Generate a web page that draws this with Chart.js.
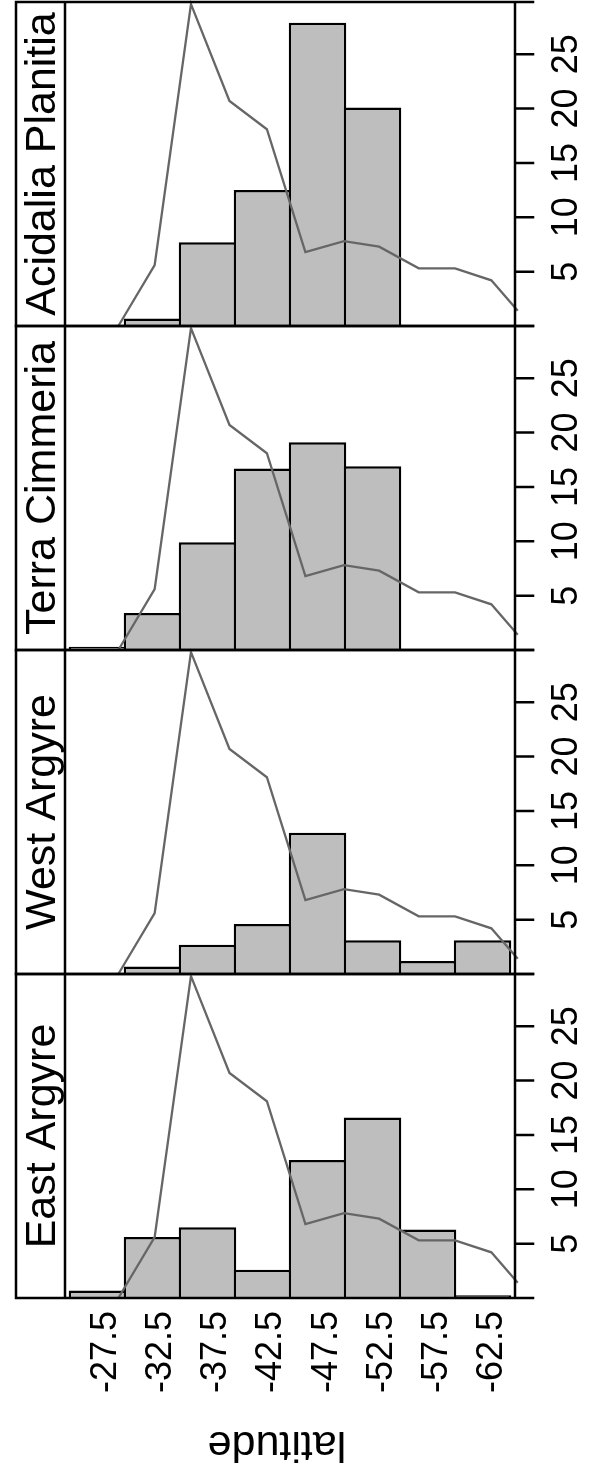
<!DOCTYPE html>
<html>
<head>
<meta charset="utf-8">
<script src="https://cdn.jsdelivr.net/npm/chart.js@4/dist/chart.umd.min.js"></script>
<style>
    html, body { margin: 0; padding: 0; background: #fff; }
    #wrap { position: relative; width: 589px; height: 1484px; }
    #wrap canvas { position: absolute; left: 0; }
</style>
</head>
<body>
<div id="wrap"></div>
<script>
// DATOS
var binCenters = [-27.5, -32.5, -37.5, -42.5, -47.5, -52.5, -57.5, -62.5];
var xTickLabels = ['-27.5', '-32.5', '-37.5', '-42.5', '-47.5', '-52.5', '-57.5', '-62.5'];
var countTicks = [5, 10, 15, 20, 25];
var regions = ['Acidalia Planitia', 'Terra Cimmeria', 'West Argyre', 'East Argyre'];

var acidaliaPlanitia = [0, 0.7, 7.7, 12.5, 27.9, 20.1, 0, 0];
var terraCimmeria = [0.3, 3.4, 9.9, 16.7, 19.1, 16.9, 0, 0];
var westArgyre = [0, 0.7, 2.7, 4.6, 13.0, 3.1, 1.2, 3.1];
var eastArgyre = [0.7, 5.6, 6.5, 2.6, 12.7, 16.6, 6.3, 0.25];

// curva de referencia (igual en todos los paneles)
var refLatitude = [-29.4, -32.7, -36.0, -39.5, -42.9, -46.4, -49.9, -53.1, -56.7, -60.0, -63.3, -65.7];
var refValues = [0, 5.6, 29.6, 20.7, 18.1, 6.8, 7.8, 7.3, 5.3, 5.3, 4.2, 1.4];

var panelValues = [acidaliaPlanitia, terraCimmeria, westArgyre, eastArgyre];

// layout
var panelTop = [2, 326, 650, 974];
var panelBottom = [326, 650, 974, 1298];
var FONT = '"Liberation Sans", Arial, Helvetica, sans-serif';

var framePlugin = {
    id: 'frame',
    afterDraw: function(chart, args, opts) {
        var ctx = chart.ctx;
        var a = chart.chartArea;
        var xScale = chart.scales.x;
        var yScale = chart.scales.y;

        ctx.save();
        ctx.strokeStyle = '#000';
        ctx.lineWidth = 2.5;
        ctx.lineCap = 'square';
        ctx.beginPath();
        ctx.moveTo(16, a.top); ctx.lineTo(533, a.top);
        ctx.moveTo(16, a.bottom); ctx.lineTo(533, a.bottom);
        ctx.moveTo(16, a.top); ctx.lineTo(16, a.bottom);
        ctx.moveTo(a.left, a.top); ctx.lineTo(a.left, a.bottom);
        ctx.moveTo(a.right, a.top); ctx.lineTo(a.right, a.bottom);
        countTicks.forEach(function(v) {
            var y = yScale.getPixelForValue(v);
            ctx.moveTo(a.right, y); ctx.lineTo(533, y);
        });
        ctx.stroke();

        ctx.fillStyle = '#000';
        ctx.textBaseline = 'alphabetic';

        // etiqueta del panel
        ctx.save();
        ctx.font = '43px ' + FONT;
        ctx.translate(55, (a.top + a.bottom) / 2);
        ctx.rotate(-Math.PI / 2);
        ctx.textAlign = 'center';
        ctx.fillText(opts.title, 0, 0);
        ctx.restore();

        // eje derecho
        ctx.font = '36px ' + FONT;
        countTicks.forEach(function(v) {
            ctx.save();
            ctx.translate(577, yScale.getPixelForValue(v));
            ctx.rotate(-Math.PI / 2);
            ctx.textAlign = 'center';
            ctx.fillText(String(v), 0, 0);
            ctx.restore();
        });

        if (opts.last) {
            binCenters.forEach(function(v, i) {
                ctx.save();
                ctx.translate(xScale.getPixelForValue(v) + 19, a.bottom + 13);
                ctx.rotate(-Math.PI / 2);
                ctx.textAlign = 'right';
                ctx.fillText(xTickLabels[i], 0, 0);
                ctx.restore();
            });
            ctx.save();
            ctx.font = '43px ' + FONT;
            ctx.translate(277, a.bottom + 134);
            ctx.rotate(Math.PI);
            ctx.textAlign = 'center';
            ctx.fillText('latitude', 0, 0);
            ctx.restore();
        }
        ctx.restore();
    }
};

function crearPanel(i) {
    var last = i === regions.length - 1;
    var top = panelTop[i] - 4;
    var h = last ? 1484 - top : panelBottom[i] - panelTop[i] + 8;
    var canvas = document.createElement('canvas');
    canvas.width = 589;
    canvas.height = h;
    canvas.style.top = top + 'px';
    document.getElementById('wrap').appendChild(canvas);

    var vals = panelValues[i];
    new Chart(canvas.getContext('2d'), {
        type: 'bar',
        data: {
            datasets: [{
                type: 'line',
                data: refLatitude.map(function(x, k) { return { x: x, y: refValues[k] }; }),
                borderColor: '#666666',
                borderWidth: 2.3,
                pointRadius: 0,
                fill: false,
                tension: 0,
                clip: false,
                order: 0
            }, {
                type: 'bar',
                data: binCenters.map(function(x, k) { return { x: x, y: vals[k] > 0 ? vals[k] : null }; }),
                backgroundColor: '#bebebe',
                borderColor: '#000',
                borderWidth: 2.5,
                barPercentage: 57.5 / 55,
                categoryPercentage: 1,
                order: 1
            }]
        },
        options: {
            responsive: false,
            animation: false,
            layout: { padding: { left: 65, right: 74, top: 4, bottom: h - 4 - (panelBottom[i] - panelTop[i]) } },
            plugins: {
                legend: { display: false },
                tooltip: { enabled: false },
                frame: { title: regions[i], last: last }
            },
            scales: {
                x: {
                    type: 'linear',
                    min: -65.45,
                    max: -24.55,
                    reverse: true,
                    offset: false,
                    display: false,
                    ticks: { stepSize: 5, includeBounds: false }
                },
                y: {
                    min: 0,
                    max: 29.8,
                    display: false
                }
            }
        },
        plugins: [framePlugin]
    });
}

regions.forEach(function(r, i) { crearPanel(i); });
</script>
</body>
</html>
